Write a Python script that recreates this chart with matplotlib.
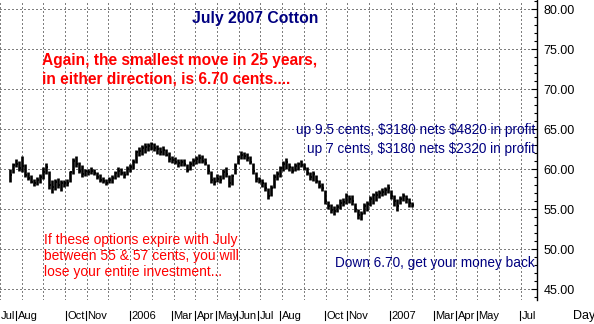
import numpy as np
import matplotlib.pyplot as plt
from matplotlib.ticker import MultipleLocator, FormatStrFormatter
import matplotlib.transforms as mtransforms

plt.rcParams['font.family'] = ['Liberation Sans', 'DejaVu Sans']

# July 2007 cotton, one bar every third session starting at session 10
first_day = 10
step = 3
high = [60.0, 60.8, 61.3, 61.0, 61.6, 60.6, 59.6, 59.2, 58.8, 59.0,
        59.4, 60.2, 60.8, 59.8, 58.6, 58.8, 58.9, 58.6, 58.6, 58.7,
        59.8, 61.4, 61.6, 60.9, 60.5, 60.0, 60.0, 60.3, 60.0, 59.6,
        59.4, 59.0, 58.8, 59.0, 59.2, 59.8, 60.2, 60.1, 59.8, 60.4,
        60.6, 61.2, 62.4, 62.8, 63.0, 63.2, 63.3, 63.4, 63.2, 63.0,
        62.8, 62.9, 62.5, 62.1, 61.6, 61.5, 61.3, 61.2, 61.3, 60.6,
        61.0, 61.4, 61.6, 61.9, 61.8, 61.4, 60.6, 59.8, 59.0, 59.4,
        59.3, 60.0, 60.3, 59.2, 59.4, 60.8, 61.8, 62.2, 62.1, 62.0,
        61.6, 60.8, 59.6, 59.0, 58.8, 58.4, 57.6, 58.0, 59.4, 59.8,
        60.4, 61.0, 61.4, 60.8, 60.4, 60.7, 60.9, 61.1, 60.8, 60.3,
        59.6, 59.8, 59.2, 58.6, 58.2, 57.4, 56.0, 55.6, 55.4, 55.6,
        56.2, 56.4, 57.0, 56.8, 56.8, 55.8, 55.0, 54.8, 55.8, 56.0,
        56.6, 57.0, 57.2, 57.4, 57.6, 57.8, 58.1, 57.4, 56.8, 56.2,
        56.6, 57.0, 56.8, 56.4, 55.9]
low = [58.4, 59.5, 60.2, 59.8, 59.6, 59.0, 58.6, 58.2, 57.9, 58.0,
       58.2, 58.8, 59.4, 57.5, 57.0, 57.4, 57.6, 57.3, 57.8, 57.9,
       58.4, 59.4, 60.2, 59.5, 59.0, 59.1, 59.2, 59.4, 59.3, 58.8,
       58.4, 58.2, 58.0, 58.2, 58.3, 58.7, 59.0, 59.2, 58.9, 59.2,
       59.6, 60.0, 60.8, 61.6, 61.8, 62.0, 62.3, 62.4, 62.2, 61.9,
       61.7, 61.8, 61.6, 60.9, 60.8, 60.6, 60.3, 60.4, 60.4, 59.6,
       59.9, 60.4, 60.6, 60.8, 60.7, 60.5, 59.4, 58.2, 58.0, 58.4,
       58.3, 58.8, 59.0, 57.8, 58.0, 59.4, 60.6, 61.3, 61.2, 61.0,
       60.6, 59.4, 58.4, 58.2, 57.8, 57.2, 56.2, 56.6, 57.6, 58.6,
       59.0, 59.8, 60.0, 59.8, 59.5, 59.7, 59.9, 60.2, 59.9, 59.2,
       58.6, 58.5, 58.2, 57.6, 57.3, 55.6, 55.0, 54.5, 54.3, 54.6,
       55.0, 55.4, 55.6, 55.8, 55.5, 54.6, 53.8, 53.6, 54.4, 54.8,
       55.4, 55.6, 56.0, 56.4, 56.6, 56.8, 57.0, 56.2, 55.4, 54.8,
       55.6, 56.0, 55.8, 55.3, 55.2]
close = [59.3, 60.5, 60.6, 60.1, 60.4, 59.3, 58.9, 58.4, 58.2, 58.6,
         59.0, 59.6, 60.2, 58.0, 57.8, 58.4, 58.0, 58.2, 58.3, 58.2,
         59.6, 61.0, 60.6, 59.8, 59.4, 59.7, 59.6, 59.8, 59.5, 59.0,
         58.6, 58.5, 58.3, 58.6, 58.9, 59.5, 59.7, 59.5, 59.2, 60.0,
         60.3, 60.9, 62.1, 62.3, 62.6, 62.8, 62.9, 63.1, 62.6, 62.5,
         62.1, 62.4, 61.8, 61.2, 61.1, 60.9, 60.7, 60.9, 60.6, 59.9,
         60.6, 61.0, 61.2, 61.4, 61.0, 60.8, 59.7, 58.6, 58.4, 58.8,
         58.6, 59.6, 59.4, 58.2, 59.1, 60.4, 61.5, 61.8, 61.6, 61.4,
         60.9, 59.8, 58.7, 58.5, 58.2, 57.6, 56.6, 57.6, 59.0, 59.4,
         60.1, 60.6, 60.9, 60.2, 59.8, 60.4, 60.6, 60.5, 60.1, 59.5,
         59.0, 59.4, 58.5, 57.9, 57.6, 56.0, 55.4, 54.9, 54.8, 55.2,
         55.8, 55.9, 56.6, 56.2, 56.0, 55.0, 54.2, 54.4, 55.4, 55.6,
         56.2, 56.7, 56.8, 57.0, 57.1, 57.4, 57.6, 56.6, 56.0, 55.4,
         56.2, 56.6, 56.2, 55.8, 55.5]

month_names = ['Jul', 'Aug', 'Oct', 'Nov', '2006', 'Mar', 'Apr', 'May', 'Jun',
               'Jul', 'Aug', 'Oct', 'Nov', '2007', 'Mar', 'Apr', 'May', 'Jul']
month_days = [0, 16, 66, 86, 130, 172, 195, 216, 237,
              258, 280, 325, 347, 390, 434, 456, 477, 520]

W, H = 594, 324
fig = plt.figure(figsize=(W / 100, H / 100), dpi=100)
ax = fig.add_axes([0, 24 / H, 537 / W, 300 / H])

days = first_day + step * np.arange(len(close))
ax.vlines(days, low, high, color='black', lw=1.9)
ax.hlines(close, days, days + 2.0, color='black', lw=1.3)

ax.set_xlim(0, 537)
ax.set_ylim(43.625, 81.125)

for side in ('left', 'top', 'bottom'):
    ax.spines[side].set_visible(False)
ax.spines['right'].set_linewidth(1.0)

ax.yaxis.tick_right()
ax.yaxis.set_major_locator(MultipleLocator(5))
ax.yaxis.set_minor_locator(MultipleLocator(1))
ax.yaxis.set_major_formatter(FormatStrFormatter('%.2f'))
ax.tick_params(axis='y', which='major', direction='in', length=4.5, width=0.8,
               pad=4.5, labelsize=9, labelcolor='black')
ax.tick_params(axis='y', which='minor', direction='in', length=2.5, width=0.8)

ax.xaxis.set_major_locator(MultipleLocator(21.7))
ax.tick_params(axis='x', length=0, labelbottom=False)
ax.grid(True, color='black', lw=0.72, linestyle=(0, (1, 3)))

# month labels with separators under the plot
trans = mtransforms.blended_transform_factory(ax.transData, ax.transAxes)
for name, d in zip(month_names, month_days):
    if d > 0:
        ax.plot([d, d], [-0.035, -0.068], color='black', lw=0.8,
                transform=trans, clip_on=False)
    ax.text(d + 1.5 if d > 0 else 0.5, -0.053, name, transform=trans,
            ha='left', va='center', fontsize=8, color='black', clip_on=False)


def px(x, y):
    return x / W, 1 - y / H


navy = '#000080'
fig.text(*px(255, 18), 'July 2007 Cotton', ha='center', va='center',
         fontsize=11.3, fontweight='bold', color=navy)
fig.text(*px(42, 61), 'Again, the smallest move in 25 years,', ha='left',
         va='center', fontsize=11.2, fontweight='bold', color='red')
fig.text(*px(42, 79), 'in either direction, is 6.70 cents....', ha='left',
         va='center', fontsize=11.2, fontweight='bold', color='red')

fig.text(*px(535, 130), r'up 9.5 cents, \$3180 nets \$4820 in profit', ha='right',
         va='center', fontsize=9.8, color=navy)
fig.text(*px(535, 149), r'up 7 cents, \$3180 nets \$2320 in profit', ha='right',
         va='center', fontsize=9.8, color=navy)
fig.text(*px(535, 263), 'Down 6.70, get your money back', ha='right',
         va='center', fontsize=9.8, color=navy)

fig.text(*px(44, 240), 'If these options expire with July', ha='left',
         va='center', fontsize=10, color='red')
fig.text(*px(44, 256), 'between 55 & 57 cents, you will', ha='left',
         va='center', fontsize=10, color='red')
fig.text(*px(44, 272), 'lose your entire investment...', ha='left',
         va='center', fontsize=10, color='red')

fig.text(*px(573, 316), 'Day', ha='left', va='center', fontsize=9, color='black')

fig.savefig('out.png', dpi=100)
